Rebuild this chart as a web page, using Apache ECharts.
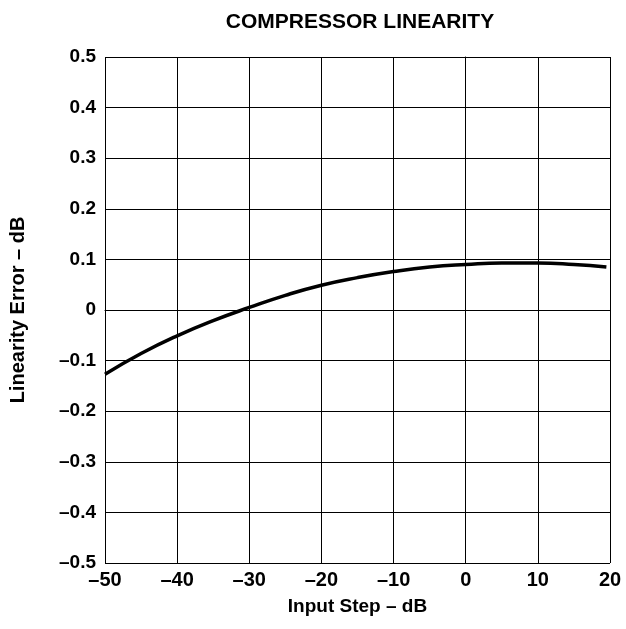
<!DOCTYPE html>
<html>
<head>
<meta charset="utf-8">
<script src="https://cdn.jsdelivr.net/npm/echarts@6/dist/echarts.min.js"></script>
<style>
  html, body { margin: 0; padding: 0; background: #fff; }
  #chart { width: 626px; height: 629px; }
</style>
</head>
<body>
<div id="chart"></div>
<script>
var inputStep = [-50, -45, -40, -35, -30, -25, -20, -15, -10, -5, 0, 5, 10, 15, 19.5];
var linearityError = [-0.127, -0.086, -0.051, -0.021, 0.005, 0.029, 0.049, 0.064, 0.076, 0.085, 0.09, 0.093, 0.093, 0.09, 0.085];

var fontFamily = '"Liberation Sans", Arial, sans-serif';

// the original prints minus signs as en dashes
function dashMinus(v) {
    return String(v).replace('-', '\u2013');
}

var chart = echarts.init(document.getElementById('chart'));
chart.setOption({
    animation: false,
    backgroundColor: '#fff',
    title: {
        text: 'COMPRESSOR LINEARITY',
        top: 7,
        left: 355,
        textAlign: 'center',
        textStyle: { fontFamily: fontFamily, fontWeight: 'bold', fontSize: 21, color: '#000' }
    },
    grid: { left: 105, right: 16, top: 57, bottom: 66 },
    xAxis: {
        type: 'value',
        min: -50, max: 20, interval: 10,
        name: 'Input Step \u2013 dB',
        nameLocation: 'middle',
        nameGap: 34,
        nameTextStyle: { fontFamily: fontFamily, fontWeight: 'bold', fontSize: 19, color: '#000' },
        axisLine: { show: true, lineStyle: { color: '#000', width: 1 } },
        axisTick: { show: false },
        splitLine: { show: true, lineStyle: { color: '#000', width: 1 } },
        axisLabel: {
            margin: 7,
            fontFamily: fontFamily, fontWeight: 'bold', fontSize: 20, color: '#000',
            formatter: dashMinus
        }
    },
    yAxis: {
        type: 'value',
        min: -0.5, max: 0.5, interval: 0.1,
        name: 'Linearity Error \u2013 dB',
        nameLocation: 'middle',
        nameGap: 77,
        nameTextStyle: { fontFamily: fontFamily, fontWeight: 'bold', fontSize: 20, color: '#000' },
        axisLine: { show: true, lineStyle: { color: '#000', width: 1 } },
        axisTick: { show: false },
        splitLine: { show: true, lineStyle: { color: '#000', width: 1 } },
        axisLabel: {
            margin: 9,
            fontFamily: fontFamily, fontWeight: 'bold', fontSize: 19, color: '#000',
            formatter: function (v) { return dashMinus(Math.round(v * 10) / 10); }
        }
    },
    series: [{
        type: 'line',
        data: inputStep.map(function (x, i) { return [x, linearityError[i]]; }),
        smooth: true,
        showSymbol: false,
        lineStyle: { color: '#000', width: 3.5 }
    }]
});
</script>
</body>
</html>
